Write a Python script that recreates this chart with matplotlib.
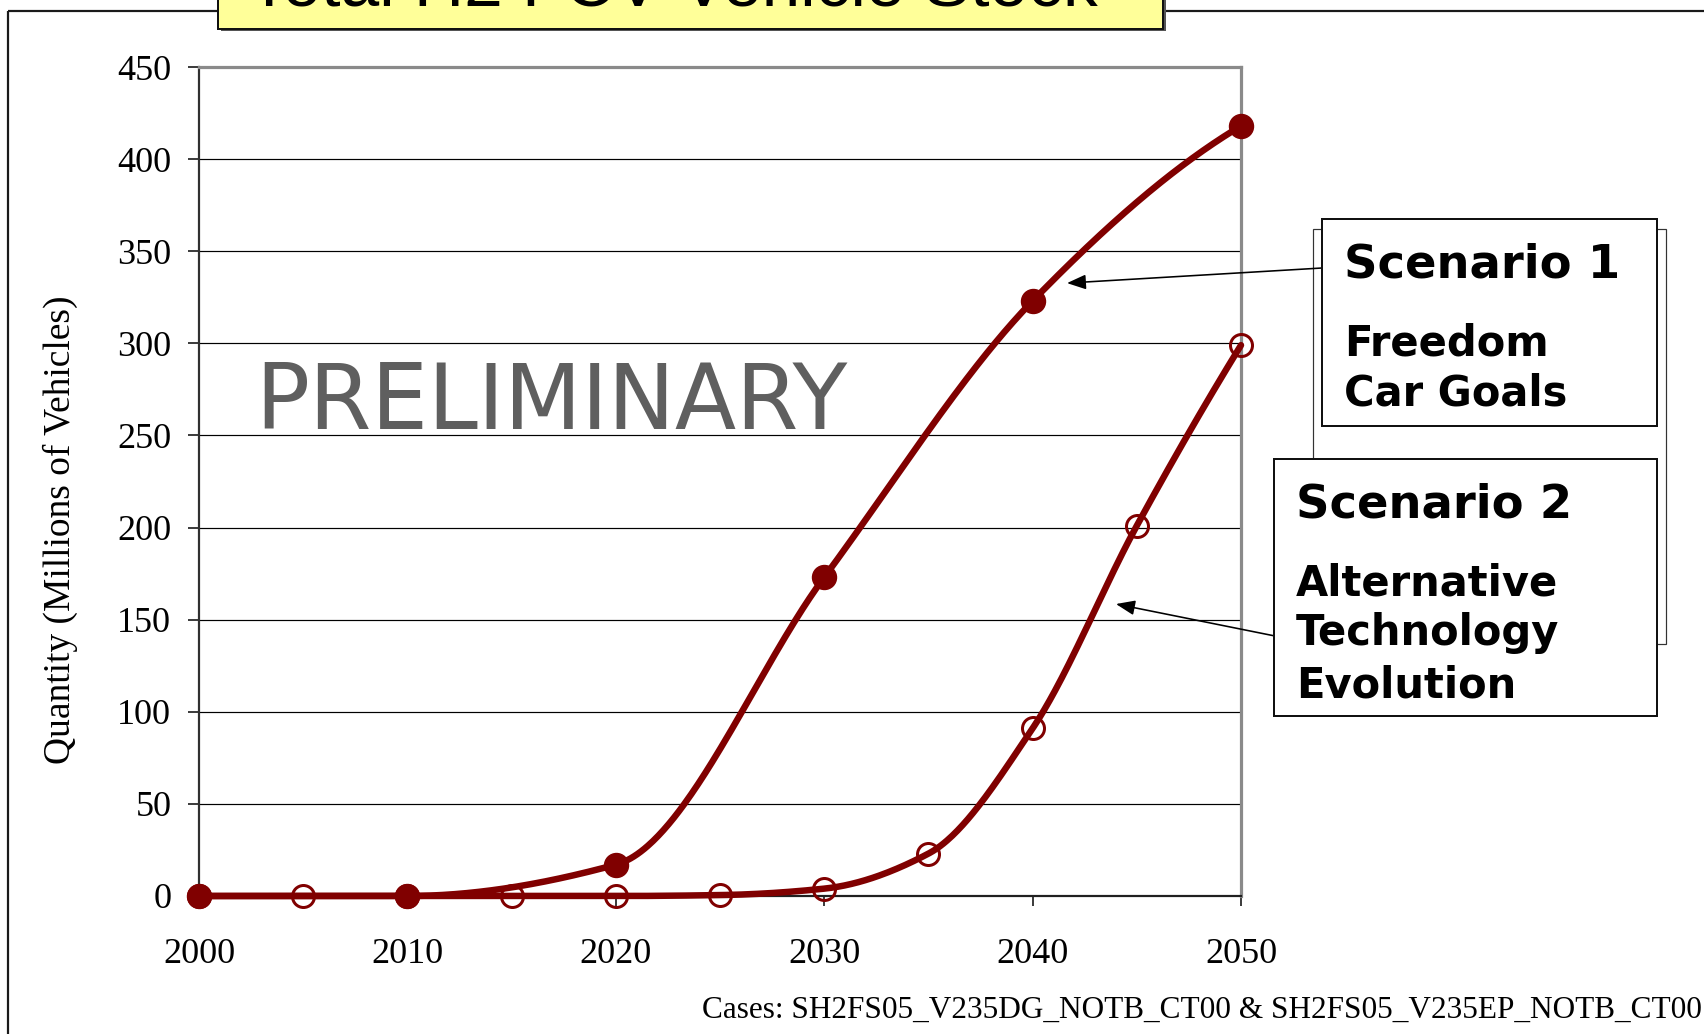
import numpy as np
import matplotlib
matplotlib.use("Agg")
import matplotlib.pyplot as plt
from matplotlib.patches import Rectangle

# ---- data -------------------------------------------------------------
years_s1 = [2000, 2010, 2020, 2030, 2040, 2050]
stock_s1 = [0, 0, 17, 173, 323, 418]          # Scenario 1 (millions)

years_s2 = [2000, 2005, 2010, 2015, 2020, 2025, 2030, 2035, 2040, 2045, 2050]
stock_s2 = [0, 0, 0, 0, 0, 0.5, 4, 23, 91, 201, 299]   # Scenario 2 (millions)

x_ticks = [2000, 2010, 2020, 2030, 2040, 2050]
y_ticks = [0, 50, 100, 150, 200, 250, 300, 350, 400, 450]

title = "Total H2 FCV Vehicle Stock"
y_label = "Quantity (Millions of Vehicles)"
cases_note = "Cases: SH2FS05_V235DG_NOTB_CT00 & SH2FS05_V235EP_NOTB_CT00"

RED = "#800000"
W, H = 1704, 1034
PX = 72.0 / 100.0   # points per pixel at dpi 100


def smooth(x, y, n=600):
    """Monotone piecewise-cubic (Fritsch-Carlson) curve through the points."""
    x = np.asarray(x, float)
    y = np.asarray(y, float)
    h = np.diff(x)
    d = np.diff(y) / h
    m = np.zeros_like(y)
    for k in range(1, len(x) - 1):
        if d[k - 1] * d[k] <= 0:
            m[k] = 0.0
        else:
            w1 = 2 * h[k] + h[k - 1]
            w2 = h[k] + 2 * h[k - 1]
            m[k] = (w1 + w2) / (w1 / d[k - 1] + w2 / d[k])

    def end(h0, h1, d0, d1):
        v = ((2 * h0 + h1) * d0 - h0 * d1) / (h0 + h1)
        if np.sign(v) != np.sign(d0):
            return 0.0
        if np.sign(d0) != np.sign(d1) and abs(v) > abs(3 * d0):
            return 3 * d0
        return v

    m[0] = end(h[0], h[1], d[0], d[1])
    m[-1] = end(h[-1], h[-2], d[-1], d[-2])
    xs = np.linspace(x[0], x[-1], n)
    idx = np.clip(np.searchsorted(x, xs) - 1, 0, len(x) - 2)
    t = (xs - x[idx]) / h[idx]
    h00 = 2 * t**3 - 3 * t**2 + 1
    h10 = t**3 - 2 * t**2 + t
    h01 = -2 * t**3 + 3 * t**2
    h11 = t**3 - t**2
    ys = (h00 * y[idx] + h10 * h[idx] * m[idx]
          + h01 * y[idx + 1] + h11 * h[idx] * m[idx + 1])
    return xs, ys


fig = plt.figure(figsize=(W / 100, H / 100), dpi=100)
fig.patch.set_facecolor("white")

# ---- main chart ---------------------------------------------------------
ax = fig.add_axes([199 / W, 1 - 896 / H, (1241 - 199) / W, (896 - 67) / H])
ax.set_xlim(2000, 2050)
ax.set_ylim(0, 450)
ax.set_xticks(x_ticks)
ax.set_yticks(y_ticks)
ax.set_xticklabels([str(v) for v in x_ticks], family="Liberation Serif", fontsize=26)
ax.set_yticklabels([str(v) for v in y_ticks], family="Liberation Serif", fontsize=26)
ax.tick_params(axis="y", direction="out", length=11 * PX, width=1.5 * PX, pad=12)
ax.tick_params(axis="x", direction="out", length=10 * PX, width=1.5 * PX, pad=23)
ax.yaxis.grid(True, color="black", linewidth=1.2 * PX, zorder=0)
ax.set_axisbelow(True)

ax.spines["left"].set_color("#303030")
ax.spines["left"].set_linewidth(2.2 * PX)
ax.spines["bottom"].set_color("#202020")
ax.spines["bottom"].set_linewidth(2.2 * PX)
for s in ("top", "right"):
    ax.spines[s].set_color("#8a8a8a")
    ax.spines[s].set_linewidth(3.2 * PX)

# Scenario 2: open circles every five years
sx2, sy2 = smooth(years_s2, stock_s2)
ax.plot(sx2, sy2, color=RED, lw=6.5 * PX, solid_capstyle="round", zorder=3, clip_on=False)
ax.plot(years_s2, stock_s2, linestyle="none", marker="o", ms=22 * PX,
        mfc="none", mec=RED, mew=3 * PX, zorder=4, clip_on=False)

# Scenario 1: filled circles every ten years
sx1, sy1 = smooth(years_s1, stock_s1)
ax.plot(sx1, sy1, color=RED, lw=6.5 * PX, solid_capstyle="round", zorder=5, clip_on=False)
ax.plot(years_s1, stock_s1, linestyle="none", marker="o", ms=24 * PX,
        mfc=RED, mec=RED, zorder=6, clip_on=False)

fig.text(60 / W, 1 - 530 / H, y_label, rotation=90, ha="center", va="center",
         family="Liberation Serif", fontsize=27)

# ---- overlay in pixel coordinates for frame, boxes and notes -------------
ov = fig.add_axes([0, 0, 1, 1], zorder=10)
ov.set_xlim(0, W)
ov.set_ylim(H, 0)
ov.axis("off")
ov.patch.set_visible(False)

# outer frame
ov.plot([8, W + 5], [11, 11], color="#1a1a1a", lw=2.2 * PX, solid_capstyle="butt")
ov.plot([8, 8], [11, H + 5], color="#1a1a1a", lw=2.2 * PX, solid_capstyle="butt")

# title box with shadow
ov.add_patch(Rectangle((221, -40), 1163 - 218, 31 + 40, facecolor="#555555",
                       edgecolor="none", zorder=2))
ov.add_patch(Rectangle((218, -40), 1163 - 218, 29 + 40, facecolor="#FFFF99",
                       edgecolor="#111111", lw=2 * PX, zorder=3))
ov.text(248, 5, title, ha="left", va="baseline", family="Liberation Sans",
        fontsize=50, color="black", zorder=4)

# watermark
ov.text(255, 429, "PRELIMINARY", ha="left", va="baseline", family="DejaVu Sans",
        fontsize=64.5, color="#5f5f5f", zorder=1)

# frame behind the scenario boxes
ov.add_patch(Rectangle((1313, 229), 1666 - 1313, 644 - 229, facecolor="white",
                       edgecolor="#333333", lw=1.2 * PX, zorder=2))

# scenario boxes
ov.add_patch(Rectangle((1322, 219), 1657 - 1322, 426 - 219, facecolor="white",
                       edgecolor="#111111", lw=2 * PX, zorder=3))
ov.add_patch(Rectangle((1274, 459), 1657 - 1274, 716 - 459, facecolor="white",
                       edgecolor="#111111", lw=2 * PX, zorder=3))

bold = dict(family="DejaVu Sans", fontweight="bold", color="black",
            ha="left", va="baseline", zorder=4)
ov.text(1344, 278, "Scenario 1", fontsize=33.5, **bold)
ov.text(1344, 356, "Freedom", fontsize=30, **bold)
ov.text(1344, 405, "Car Goals", fontsize=30, **bold)
ov.text(1296, 517, "Scenario 2", fontsize=33.5, **bold)
ov.text(1296, 595, "Alternative", fontsize=30, **bold)
ov.text(1296, 645, "Technology", fontsize=30, **bold)
ov.text(1296, 697, "Evolution", fontsize=30, **bold)

# arrows from the boxes to the curves
arrow = dict(arrowstyle="-|>,head_length=1.15,head_width=0.45", color="black",
             lw=1.6 * PX, shrinkA=0, shrinkB=0)
ov.annotate("", xy=(2041.65, 332.7), xycoords=ax.transData,
            xytext=(1322, 268), textcoords=ov.transData, arrowprops=arrow, zorder=2)
ov.annotate("", xy=(2044.0, 158.5), xycoords=ax.transData,
            xytext=(1275, 636), textcoords=ov.transData, arrowprops=arrow, zorder=2)

# case note
ov.text(1702, 1010, cases_note, ha="right", va="center", family="Liberation Serif",
        fontsize=22.5, color="black")

fig.savefig("out.png", dpi=100, facecolor="white")
